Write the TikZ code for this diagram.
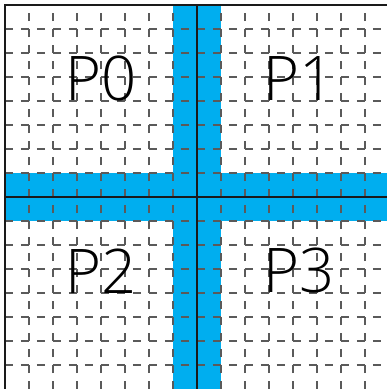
\documentclass[tikz,border=0pt]{standalone}
\usepackage{fontspec}
\newfontfamily\labelfont{Open Sans Light}
\usetikzlibrary{positioning}
\definecolor{bandblue}{HTML}{00AEEF}
\definecolor{gridgray}{HTML}{5A5A5A}
\definecolor{edgeblack}{HTML}{1A1A1A}

\begin{document}
\begin{tikzpicture}[x=0.5cm, y=0.5cm,
  band/.style={fill=bandblue, draw=none},
  gridline/.style={gridgray, line width=0.8pt,
    dash pattern=on 4.74pt off 4.74pt},
  edge/.style={edgeblack, line width=1.2pt},
  quad/.style={font=\labelfont\fontsize{36.5}{40}\selectfont, inner sep=0pt}
]
  \useasboundingbox (-5/24,0) rectangle (381/24,16+5/24);

  % Bands
  \fill[band] (7,0) rectangle (9,16);
  \fill[band] (0,7) rectangle (16,9);

  % Grid
  \foreach \i in {1,...,15} {
    \draw[gridline] (\i,0) -- (\i,16);
    \draw[gridline] (0,\i) -- (16,\i);
  }

  % Edges
  \draw[edge] (0,0) -- (0,16) -- (16,16);
  \draw[edge] (8,0) -- (8,16);
  \draw[edge] (0,8) -- (16,8);

  % Labels
  \node[quad] (p0) at (4,12.92) {P0};
  \node[quad] (p1) at (12.25,12.92) {P1};
  \node[quad] (p2) at (4,4.92) {P2};
  \node[quad] (p3) at (12.25,4.92) {P3};
\end{tikzpicture}
\end{document}
